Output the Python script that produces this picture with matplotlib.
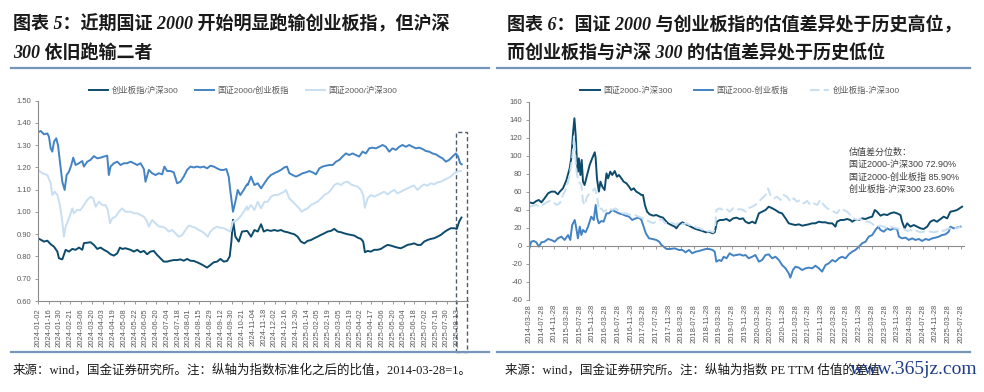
import matplotlib.pyplot as plt
import matplotlib.transforms as mtransforms
from matplotlib.patches import Rectangle
from matplotlib.lines import Line2D

plt.rcParams['font.family'] = ['Liberation Sans', 'Noto Sans CJK SC']
plt.rcParams['axes.unicode_minus'] = False

# ---------------- left chart: ratios, x = trading day index from 2024-01-02 ----------------
left_ticks = ['2024-01-02', '2024-01-16', '2024-01-30', '2024-02-21', '2024-03-06', '2024-03-20',
              '2024-04-03', '2024-04-19', '2024-05-08', '2024-05-22', '2024-06-05', '2024-06-20',
              '2024-07-04', '2024-07-18', '2024-08-01', '2024-08-15', '2024-08-29', '2024-09-12',
              '2024-09-30', '2024-10-21', '2024-11-04', '2024-11-18', '2024-12-02', '2024-12-16',
              '2024-12-30', '2025-01-14', '2025-02-05', '2025-02-19', '2025-03-05', '2025-03-19',
              '2025-04-02', '2025-04-17', '2025-05-06', '2025-05-20', '2025-06-04', '2025-06-18',
              '2025-07-02', '2025-07-16', '2025-07-30', '2025-08-13']
left_names = ['创业板指/沪深300', '国证2000/创业板指', '国证2000/沪深300']

cyb_hs_x = [0, 5.6, 8.7, 11.8, 14.9, 18, 19.5, 22.6, 25.7, 28.8, 31.9, 35, 38.1, 41.2, 42.7, 45.8, 48.9,
            52, 55.1, 58.2, 61.3, 64.4, 67.5, 70.6, 73.7, 76.2, 78.3, 81.4, 86.1, 89.2, 92.3, 95.4, 98.5,
            101.5, 104.6, 107.7, 110.8, 113.9, 117, 120.1, 123.2, 126.3, 129.4, 132.5, 135.6, 138.7,
            141.8, 144.9, 148, 151.1, 154.2, 157.3, 160.4, 163.5, 166.6, 169.7, 172.8, 175.9, 178.3,
            179.9, 181.4, 183.6, 186.7, 189.8, 194.4,
            195.1, 198.2, 201.3, 204.4, 207.5, 210, 213.1, 216.7, 219.8, 222.9, 226, 229.1, 232.2, 235.3,
            238.4, 241.5, 244.6, 247.7, 250.8, 253.9, 257, 260.1, 263.2, 266.3, 269.4, 272.5, 275.6,
            278.7, 281.8, 284.9, 288, 291.1, 294.2, 297.3, 300.4, 302.5, 304.1, 306.6, 309.7, 312.8,
            315.9, 319, 322.1, 325.2, 328.3, 331.4, 334.4, 337.5, 340.6, 343.7, 346.8, 349.9, 353,
            356.1, 359.2, 362.3, 365.4, 368.5, 371.6, 374.7, 377.8, 380.9, 384, 387.1, 389.6, 391.8, 393.9]
cyb_hs_y = [0.882, 0.867, 0.871, 0.855, 0.844, 0.822, 0.792, 0.787, 0.83, 0.822, 0.834, 0.83, 0.84, 0.83,
            0.86, 0.862, 0.864, 0.852, 0.834, 0.84, 0.83, 0.822, 0.81, 0.804, 0.814, 0.84, 0.834, 0.837,
            0.83, 0.822, 0.83, 0.819, 0.825, 0.81, 0.822, 0.825, 0.807, 0.792, 0.777, 0.777, 0.781, 0.784,
            0.784, 0.787, 0.781, 0.789, 0.781, 0.78, 0.774, 0.767, 0.759, 0.75, 0.762, 0.774, 0.777,
            0.789, 0.777, 0.78, 0.8, 0.867, 0.965, 0.889, 0.867, 0.912, 0.915,
            0.912, 0.889, 0.919, 0.912, 0.945, 0.912, 0.919, 0.915, 0.919, 0.915, 0.919, 0.912, 0.909,
            0.904, 0.9, 0.889, 0.867, 0.859, 0.87, 0.874, 0.882, 0.889, 0.897, 0.904, 0.912, 0.915, 0.924,
            0.912, 0.909, 0.904, 0.9, 0.897, 0.894, 0.885, 0.879, 0.867, 0.819, 0.825, 0.822, 0.83, 0.83,
            0.834, 0.844, 0.852, 0.849, 0.844, 0.84, 0.837, 0.844, 0.852, 0.855, 0.859, 0.852, 0.852,
            0.867, 0.874, 0.879, 0.882, 0.889, 0.897, 0.909, 0.919, 0.927, 0.927, 0.924, 0.957, 0.975]

gz_cyb_x = [0, 2.5, 5.6, 8.7, 10.2, 11.8, 13.3, 14.9, 17, 18.6, 20.4, 22.6, 24.8, 26.6, 28.8, 31, 32.8,
            35, 38.1, 41.2, 42.7, 45.8, 48.9, 52, 55.1, 58.2, 61.3, 64.4, 65.9, 67.5, 70.6, 73.7, 76.8,
            79.9, 83, 86.1, 89.2, 92.3, 95.4, 98.5, 100, 103.1, 106.2, 109.3, 112.4, 115.5, 117.6, 120.1,
            123.2, 126.3, 129.4, 132.5, 135.6, 138.7, 141.8, 144.9, 148, 151.1, 154.2, 157.3, 160.4,
            163.5, 166.6, 169.7, 172.8, 175.2, 177.4, 179, 181.4, 183.6, 185.8, 188.2, 191.3, 194.4,
            195.1, 198.2, 201.3, 204.4, 207.5, 210.6, 213.7, 216.7, 219.8, 222.9, 226, 229.1, 231.6,
            233.8, 236.9, 240, 243.1, 246.2, 249.3, 252.4, 255.5, 258.6, 261.7, 264.8, 267.9, 271, 274.1,
            277.2, 280.3, 283.3, 286.4, 289.5, 292.6, 295.7, 298.8, 301.9, 305, 308.1, 311.2, 314.3,
            317.4, 320.5, 323.6, 326.7, 329.8, 332.9, 336, 339.1, 342.2, 345.3, 348.4, 351.5, 354.6,
            357.7, 360.8, 363.9, 367, 370.1, 373.2, 376.3, 379.4, 382.5, 385.6, 388.7, 390.8, 392.7, 394.2]
gz_cyb_y = [1.358, 1.364, 1.349, 1.353, 1.338, 1.286, 1.271, 1.316, 1.331, 1.30, 1.226, 1.136, 1.099,
            1.166, 1.181, 1.211, 1.244, 1.211, 1.219, 1.229, 1.204, 1.226, 1.234, 1.251, 1.241, 1.244,
            1.249, 1.253, 1.166, 1.204, 1.219, 1.226, 1.211, 1.219, 1.219, 1.226, 1.219, 1.211, 1.219,
            1.193, 1.136, 1.189, 1.174, 1.166, 1.174, 1.169, 1.204, 1.184, 1.184, 1.178, 1.129, 1.136,
            1.159, 1.189, 1.204, 1.2, 1.204, 1.2, 1.204, 1.196, 1.208, 1.204, 1.196, 1.189, 1.189,
            1.193, 1.159, 1.091, 1.001, 1.046, 1.099, 1.076, 1.099, 1.124,
            1.121, 1.159, 1.121, 1.129, 1.106, 1.129, 1.151, 1.166, 1.174, 1.181, 1.189, 1.2, 1.204,
            1.174, 1.166, 1.159, 1.166, 1.174, 1.178, 1.184, 1.178, 1.169, 1.196, 1.204, 1.208, 1.211,
            1.211, 1.226, 1.234, 1.249, 1.263, 1.256, 1.263, 1.256, 1.249, 1.271, 1.263, 1.286, 1.289,
            1.286, 1.293, 1.301, 1.293, 1.271, 1.286, 1.279, 1.293, 1.301, 1.293, 1.301, 1.293, 1.286,
            1.289, 1.283, 1.274, 1.271, 1.263, 1.259, 1.249, 1.241, 1.226, 1.234, 1.249, 1.263, 1.249,
            1.219, 1.214]

gz_hs_x = [0, 4, 8.7, 11.8, 13.3, 15.5, 18, 20.4, 22.6, 24.1, 25.7, 28.8, 31.9, 33.4, 36.5, 39.6, 42.7,
           45.8, 48.9, 51.4, 53.6, 56.7, 59.8, 62.8, 65, 66.9, 69, 72.1, 75.2, 78.3, 81.4, 86.1, 89.2,
           92.3, 95.4, 98.5, 101.5, 103.1, 106.2, 109.3, 112.4, 115.5, 118.6, 121.7, 124.8, 127.9, 131,
           134.1, 137.2, 140.2, 143.3, 146.4, 149.5, 152.6, 155.7, 157.9, 160.4, 163.5, 166.6, 169.7,
           172.8, 175.9, 179, 181.4, 185.1, 188.2, 191.3, 194.4,
           195.1, 198.2, 201.3, 204.4, 207.5, 210.6, 213.7, 216.7, 219.8, 222.9, 226, 229.1, 230.7,
           233.8, 236.9, 240, 243.1, 245.2, 247.7, 250.8, 253.9, 257, 260.1, 263.2, 266.3, 269.4, 272.5,
           275.6, 278.7, 281.8, 284.9, 288, 291.1, 294.2, 297.3, 300.4, 302.5, 304.1, 306.6, 309.7,
           312.8, 315.9, 319, 322.1, 325.2, 328.3, 331.4, 334.4, 337.5, 340.6, 343.7, 346.8, 349.9, 353,
           356.1, 359.2, 362.3, 365.4, 368.5, 371.6, 374.7, 377.8, 380.9, 384, 387.1, 390.2, 393.3]
gz_hs_y = [1.189, 1.174, 1.166, 1.129, 1.076, 1.091, 1.076, 1.031, 0.957, 0.889, 0.934, 0.971, 1.016,
           0.994, 1.009, 1.009, 1.031, 1.054, 1.069, 1.061, 1.024, 1.046, 1.031, 1.031, 1.009, 0.949,
           0.971, 0.979, 1.001, 1.016, 1.001, 1.001, 0.994, 0.994, 0.986, 0.979, 0.957, 0.934, 0.964,
           0.949, 0.934, 0.934, 0.927, 0.912, 0.919, 0.904, 0.889, 0.896, 0.919, 0.939, 0.934, 0.929,
           0.919, 0.912, 0.9, 0.889, 0.912, 0.927, 0.934, 0.929, 0.927, 0.919, 0.912, 0.957, 0.964,
           0.979, 1.001, 1.024,
           1.009, 1.031, 1.009, 1.046, 1.016, 1.046, 1.046, 1.069, 1.076, 1.076, 1.084, 1.091, 1.099,
           1.061, 1.046, 1.031, 1.016, 1.001, 1.009, 1.016, 1.031, 1.039, 1.046, 1.061, 1.076, 1.084,
           1.099, 1.121, 1.129, 1.121, 1.133, 1.136, 1.124, 1.118, 1.114, 1.099, 1.076, 1.019, 1.061,
           1.076, 1.069, 1.076, 1.084, 1.091, 1.079, 1.091, 1.099, 1.084, 1.091, 1.099, 1.106, 1.114,
           1.118, 1.099, 1.114, 1.124, 1.118, 1.129, 1.124, 1.133, 1.136, 1.144, 1.151, 1.159, 1.174,
           1.181, 1.184]

# ---------------- right chart: PE TTM spreads, x = months after 2014-03-28 ----------------
right_ticks = ['2014-03-28', '2014-07-28', '2014-11-28', '2015-03-28', '2015-07-28', '2015-11-28',
               '2016-03-28', '2016-07-28', '2016-11-28', '2017-03-28', '2017-07-28', '2017-11-28',
               '2018-03-28', '2018-07-28', '2018-11-28', '2019-03-28', '2019-07-28', '2019-11-28',
               '2020-03-28', '2020-07-28', '2020-11-28', '2021-03-28', '2021-07-28', '2021-11-28',
               '2022-03-28', '2022-07-28', '2022-11-28', '2023-03-28', '2023-07-28', '2023-11-28',
               '2024-03-28', '2024-07-28', '2024-11-28', '2025-03-28', '2025-07-28']
right_names = ['国证2000-沪深300', '国证2000-创业板指', '创业板指-沪深300']
pct_lines = ['估值差分位数：', '国证2000-沪深300 72.90%', '国证2000-创业板指 85.90%', '创业板指-沪深300 23.60%']

gz_hs_m = [0.1, 1.3, 2.3, 3.1, 3.9, 4.9, 6.0, 7.0, 8.1, 9.1, 9.7, 10.7, 11.8, 12.8, 13.3, 13.9, 14.3,
           14.7, 15.1, 15.4, 15.7, 16.2, 16.6, 17.0, 17.5, 18.3, 19.1, 19.9, 20.7, 21.0, 21.4, 22.0,
           22.5, 23.1, 23.8, 24.4, 24.9, 25.6, 26.2, 27.0, 27.7, 28.3, 29.1, 29.8, 30.7, 31.5, 32.2,
           33.0, 33.8, 34.7, 35.4, 35.9, 36.5, 37.2, 38.0, 39.1, 40.1, 41.2, 42.2, 43.1, 43.8, 44.8,
           45.9, 46.4, 47.3, 48.3, 49.4, 50.4, 51.5, 52.5, 53.6, 54.6, 55.7, 56.7, 57.8, 58.5, 59.2,
           60.1, 61.1, 62.2, 63.2, 64.3, 65.3, 66.4, 67.4,
           68.2, 69.2, 70.3, 71.3, 72.4, 73.4, 74.5, 75.5, 76.6, 77.6, 78.7, 79.7, 80.8, 81.8, 82.9,
           83.9, 85.0, 86.0, 87.1, 88.1, 89.2, 90.2, 91.3, 92.3, 93.4, 94.4, 95.5, 96.5, 97.0, 98.1,
           99.1, 100.2, 101.2, 101.8, 102.6, 103.9, 104.9, 106.0, 107.0, 108.1, 108.9, 109.6, 110.7,
           111.7, 112.8, 113.8, 114.9, 115.9, 117.0, 117.5, 118.3, 119.1, 120.1, 121.2, 122.2, 123.3,
           124.3, 125.4, 126.4, 127.5, 128.5, 129.6, 130.6, 131.7, 132.7, 133.8, 134.8, 135.9, 136.4]
gz_hs_v = [48.5, 47.4, 50, 51.1, 48.5, 53, 58.5, 60.4, 60.4, 57.4, 60.4, 64.1, 73.3, 86.3, 97.4, 127,
           141.9, 123.4, 93.7, 82.6, 97.4, 78.9, 95.6, 71.5, 67.8, 78.9, 90, 97.4, 104.1, 97.4, 75.2,
           60.4, 71.5, 65.9, 62.2, 80.7, 75.2, 82.6, 78.9, 83.3, 77, 78.9, 75.2, 71.5, 69.6, 65.9, 62.2,
           64.1, 60.4, 58.5, 56.7, 56.7, 45.6, 38.1, 35.2, 33.7, 34.4, 32.6, 31.5, 27.8, 25.2, 23.3,
           21.5, 19.6, 24.1, 26.3, 24.1, 22.6, 20.4, 18.9, 17.8, 16.7, 15.2, 15.9, 14.1, 15.2, 27,
           28.9, 28.9, 30, 27.8, 30.7, 31.5, 30, 30.7,
           27, 25.2, 27, 25.2, 36.3, 38.1, 40, 43.7, 41.9, 40, 37.4, 36.3, 30.7, 25.2, 24.1, 23.3, 24.1,
           22.6, 23.3, 24.1, 25.2, 25.2, 27, 26.3, 26.3, 25.2, 25.2, 21.5, 27, 28.9, 28.9, 30, 28.9, 27,
           28.9, 28.9, 30.7, 30, 31.5, 32.6, 40, 38.1, 33.7, 35.2, 34.4, 36.3, 37.4, 36.3, 34.4, 27,
           19.6, 25.2, 21.5, 23.3, 21.5, 19.6, 18.9, 21.5, 27, 28.9, 27, 30, 32.6, 30.7, 38.1, 38.9, 40,
           42.6, 43.7]

gz_cyb_m = [0.1, 0.7, 1.5, 2.3, 3.1, 3.9, 4.9, 6.0, 7.0, 8.1, 9.1, 10.2, 11.2, 12.3, 13.0, 13.6, 14.4,
            14.9, 15.4, 16.0, 16.5, 17.0, 17.8, 18.6, 19.6, 20.4, 21.0, 21.5, 22.0, 22.8, 23.5, 24.4,
            25.2, 26.2, 27.3, 28.3, 29.4, 30.4, 31.5, 32.5, 33.6, 34.6, 35.4, 36.1, 36.8, 37.8, 38.9,
            40.1, 41.0, 41.7, 42.4, 43.3, 44.5, 45.9, 47.2, 48.3, 49.3, 50.4, 51.4, 52.5, 53.5, 54.6,
            55.7, 56.7, 57.8, 58.5, 59.0, 59.9, 60.6, 61.3, 62.2, 63.2, 64.3, 65.3, 66.4, 67.4,
            68.2, 69.2, 70.3, 71.3, 72.4, 73.4, 74.5, 75.5, 76.6, 77.6, 78.7, 79.7, 80.8, 81.8, 82.3,
            83.1, 83.9, 85.0, 86.0, 87.1, 88.1, 89.2, 90.2, 91.3, 92.3, 93.4, 94.4, 95.5, 96.5, 97.6,
            98.6, 99.7, 100.7, 101.8, 102.8, 103.9, 104.9, 106.0, 107.0, 108.1, 109.1, 110.0, 110.7,
            111.7, 112.8, 113.8, 114.9, 115.9, 116.5, 117.5, 118.6, 119.6, 120.7, 121.7, 122.8, 123.8,
            124.9, 125.9, 127.0, 128.0, 129.1, 130.1, 131.2, 132.2, 132.7, 133.8, 134.8, 135.9]
gz_cyb_v = [-2.6, 4.8, 5.6, 4.1, -0.7, 4.1, 4.8, 7.8, 6.7, 4.8, 8.5, 10.4, 6.7, 12.2, 6.7, 23.3, 28.9,
            19.6, 8.5, 21.5, 12.2, 17.8, 15.2, 21.5, 32.6, 28.9, 45.6, 30.7, 25.2, 27.8, 27, 36.3, 36.3,
            40, 38.1, 36.3, 35.2, 33.7, 32.6, 28.9, 30.7, 31.5, 28.9, 21.5, 14.1, 8.5, 7.8, 6.7, 4.8,
            1.1, -0.7, -3.3, -3.3, -2.6, -4.4, -4.4, -7, -4.4, -8.1, -6.3, -5.6, -4.4, -3.3, -3.3, -4.4,
            -6.3, -17.4, -15.6, -16.7, -11.9, -13.7, -8.1, -10.7, -10, -9.3, -10.7,
            -10, -13.7, -11.9, -10, -17.4, -15.6, -10, -9.3, -13.7, -11.9, -15.6, -21.1, -24.8, -30.4,
            -35.2, -26.7, -23, -24.1, -26.7, -24.8, -24.1, -24.8, -21.9, -24.8, -28.5, -21.1, -19.3,
            -15.6, -17.4, -13.7, -11.9, -13.7, -9.3, -6.3, -4.4, -0.7, 3, 4.8, 10.4, 12.2, 17.8, 21.5,
            17.8, 15.9, 19.6, 17.8, 19.6, 18.9, 10.4, 8.5, 9.3, 6.7, 8.5, 6.7, 7.8, 5.6, 7.8, 6.7, 8.5,
            9.3, 10.4, 12.2, 13, 15.9, 21.5, 19.6, 20.4, 21.5]

cyb_hs_m = [0.1, 1.3, 2.3, 3.4, 4.4, 5.5, 6.5, 7.6, 8.6, 9.7, 10.7, 11.8, 12.8, 13.6, 14.2, 14.7, 15.1,
            15.7, 16.5, 17.0, 17.5, 18.3, 19.1, 19.9, 20.7, 21.4, 22.0, 22.8, 23.5, 24.4, 25.2, 26.2,
            27.3, 28.3, 29.6, 30.7, 31.9, 33.3, 34.6, 35.9, 37.0, 38.0, 39.1, 40.3, 41.7, 43.0, 44.3,
            45.4, 46.4, 47.5, 48.5, 49.6, 50.6, 51.7, 52.7, 53.8, 54.8, 55.9, 56.9, 58.0, 58.6, 59.0,
            60.1, 61.1, 62.2, 63.2, 64.3, 65.3, 66.4, 67.4, 68.3,
            69.2, 70.3, 71.3, 72.4, 73.4, 74.5, 75.3, 76.0, 77.1, 78.1, 79.2, 80.2, 81.3, 82.3, 83.4,
            84.4, 85.5, 86.5, 87.6, 88.6, 89.7, 90.7, 91.8, 92.8, 93.9, 94.9, 96.0, 97.0, 98.1, 99.1,
            100.2, 101.2, 102.3, 103.3, 104.4, 105.4, 106.5, 107.5, 108.6, 109.6, 110.7, 111.7, 112.8,
            113.8, 114.9, 115.9, 117.0, 118.0, 119.1, 120.1, 121.2, 122.2, 123.3, 124.3, 125.4, 126.4,
            127.5, 128.5, 129.6, 130.6, 131.7, 132.7, 133.8, 134.8, 135.9]
cyb_hs_v = [43.7, 44.8, 45.6, 43.7, 45.6, 48.5, 50, 49.3, 45.6, 47.4, 56.7, 64.1, 78.9, 97.4, 122,
            93.7, 78.9, 71.5, 67.8, 49.3, 45.6, 54.8, 58.5, 60.4, 64.1, 56.7, 40, 41.9, 38.1, 40, 41.9,
            40, 41.9, 38.1, 36.3, 36.3, 34.4, 34.4, 32.6, 30.7, 28.9, 27, 25.2, 27.8, 30, 25.2, 26.3,
            25.2, 23.3, 27, 24.1, 25.2, 23.3, 22.6, 20.4, 19.6, 17.8, 15.9, 16.7, 15.2, 19.6, 40, 41.9,
            40, 41.1, 38.1, 41.9, 40, 41.1, 40, 38.1,
            41.9, 43.7, 45.6, 49.3, 53, 56.7, 64.1, 56.7, 53, 54.8, 51.1, 56.7, 54.8, 49.3, 53, 49.3,
            51.1, 47.4, 50, 45.6, 47.4, 45.6, 51.1, 45.6, 41.9, 40, 38.1, 36.3, 41.9, 40, 38.1, 34.4,
            30.7, 28.9, 30, 27.8, 27, 26.3, 23.3, 21.5, 22.6, 21.5, 19.6, 21.5, 20.4, 19.6, 17.8, 18.9,
            16.7, 17.8, 15.9, 16.7, 15.2, 15.9, 16.7, 15.9, 15.2, 15.9, 17.8, 16.7, 18.9, 19.6, 20.4,
            19.6, 21.5]

dark, mid, light = '#0d4b6c', '#4383c3', '#c8def1'
grey_txt, axis_col, rule_col = '#595959', '#8c8c8c', '#7596b8'
title_font = ['Liberation Serif', 'Noto Sans CJK SC']
src_font = ['Liberation Serif', 'Noto Sans CJK SC']

fig = plt.figure(figsize=(9.84, 3.92), dpi=100)

# titles, rules, sources
fig.text(13 / 984, 1 - 24 / 392, '图表 5：近期国证 2000 开始明显跑输创业板指，但沪深', family=title_font,
         fontsize=13, weight='bold', style='italic', va='center', color='#1a1a1a')
fig.text(13 / 984, 1 - 53 / 392, '300 依旧跑输二者', family=title_font,
         fontsize=13, weight='bold', style='italic', va='center', color='#1a1a1a')
fig.text(507 / 984, 1 - 25 / 392, '图表 6：国证 2000 与创业板指的估值差异处于历史高位，', family=title_font,
         fontsize=13, weight='bold', style='italic', va='center', color='#1a1a1a')
fig.text(507 / 984, 1 - 53 / 392, '而创业板指与沪深 300 的估值差异处于历史低位', family=title_font,
         fontsize=13, weight='bold', style='italic', va='center', color='#1a1a1a')
for x0, x1 in [(11, 489), (497, 970)]:
    fig.add_artist(Line2D([x0 / 984, x1 / 984], [1 - 68 / 392] * 2, color=rule_col, lw=1.6))
    fig.add_artist(Line2D([x0 / 984, x1 / 984], [1 - 352 / 392] * 2, color=rule_col, lw=1.6))
fig.text(13 / 984, 1 - 370 / 392, '来源：wind，国金证券研究所。注：纵轴为指数标准化之后的比值，2014-03-28=1。',
         family=src_font, fontsize=9, va='center', color='#1a1a1a')
fig.text(505 / 984, 1 - 370 / 392, '来源：wind，国金证券研究所。注：纵轴为指数 PE TTM 估值的差值',
         family=src_font, fontsize=9, va='center', color='#1a1a1a')
fig.text(850 / 984, 1 - 370 / 392, 'www.365jz.com', family='Liberation Serif', fontsize=14,
         va='center', color='#1f3c88')

# ---------- left axes ----------
ax1 = fig.add_axes([38 / 984, 91 / 392, 430 / 984, 200.3 / 392])
ax1.plot(cyb_hs_x, cyb_hs_y, color=dark, lw=1.4, label=left_names[0])
ax1.plot(gz_cyb_x, gz_cyb_y, color=mid, lw=1.4, label=left_names[1])
ax1.plot(gz_hs_x, gz_hs_y, color=light, lw=1.4, label=left_names[2])
ax1.set_xlim(0, 400)
ax1.set_ylim(0.6, 1.5)
ax1.set_yticks([0.6 + 0.1 * i for i in range(10)])
ax1.set_yticklabels([f'{0.6 + 0.1 * i:.2f}' for i in range(10)])
ax1.set_xticks(range(0, 400, 10))
ax1.set_xticklabels(left_ticks, rotation=90)
ax1.legend(loc='center', bbox_to_anchor=(0.477, 1.048), ncol=3, frameon=False, fontsize=6,
           handlelength=2.3, handletextpad=0.4, columnspacing=2.0, labelcolor=grey_txt)

box_tr = mtransforms.blended_transform_factory(ax1.transData, ax1.transAxes)
ax1.add_patch(Rectangle((388.8, -0.255), 10.2, 1.099, transform=box_tr, fill=False,
                        ec='#4d5b6a', lw=1.0, ls=(0, (3, 2)), clip_on=False))

# ---------- right axes ----------
ax2 = fig.add_axes([529 / 984, 92 / 392, 435 / 984, 198 / 392])
ax2.plot(gz_hs_m, gz_hs_v, color=dark, lw=1.4, label=right_names[0])
ax2.plot(gz_cyb_m, gz_cyb_v, color=mid, lw=1.4, label=right_names[1])
ax2.plot(cyb_hs_m, cyb_hs_v, color=light, lw=1.4, dashes=(5, 2), label=right_names[2])
ax2.set_xlim(0, 137)
ax2.set_ylim(-60, 160)
ax2.set_yticks(range(-60, 161, 20))
ax2.set_xticks(range(0, 137, 4))
ax2.spines['bottom'].set_position(('data', 0))
ax2.tick_params(axis='x', labelbottom=False)
sec = ax2.secondary_xaxis('bottom')
sec.set_xticks(range(0, 137, 4), labels=right_ticks, rotation=90)
sec.tick_params(length=0, labelsize=5.5, colors=grey_txt, pad=3)
sec.spines['bottom'].set_visible(False)
ax2.legend(loc='center', bbox_to_anchor=(0.485, 1.056), ncol=3, frameon=False, fontsize=6,
           handlelength=2.3, handletextpad=0.4, columnspacing=2.6, labelcolor=grey_txt)
ax2.text(0.7356, 0.768, '\n'.join(pct_lines), transform=ax2.transAxes, va='top', ha='left',
         fontsize=6.5, color='#404040', linespacing=1.45)

for ax in (ax1, ax2):
    for s in ('top', 'right'):
        ax.spines[s].set_visible(False)
    for s in ('left', 'bottom'):
        ax.spines[s].set_color(axis_col)
        ax.spines[s].set_linewidth(0.8)
    ax.tick_params(direction='out', length=2.5, width=0.6, color=axis_col,
                   labelsize=5.5, labelcolor=grey_txt, pad=2.5)

fig.savefig('out.png', dpi=100)
